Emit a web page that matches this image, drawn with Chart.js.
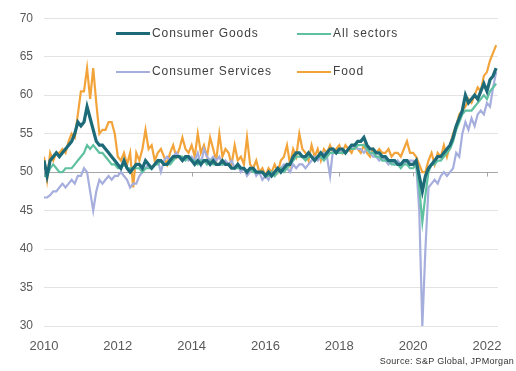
<!DOCTYPE html>
<html>
<head>
<meta charset="utf-8">
<script src="https://cdn.jsdelivr.net/npm/chart.js@4"></script>
<style>
  html, body { margin: 0; padding: 0; background: #fff; }
  #wrap { position: relative; width: 516px; height: 371px; }
  #legend { position: absolute; left: 116px; top: 24px; font-family: "Liberation Sans", Arial, sans-serif;
    font-size: 12px; letter-spacing: 0.9px; color: #404040; }
  .item { position: absolute; white-space: nowrap; height: 18px; line-height: 18px; }
  .item span.sw { display: inline-block; width: 34px; vertical-align: middle; margin-right: 2px; }
  #source { position: absolute; right: 2px; top: 356px; font-family: "Liberation Sans", Arial, sans-serif;
    font-size: 9px; color: #333; letter-spacing: 0.3px; }
</style>
</head>
<body>
<div id="wrap">
  <canvas id="chart" width="516" height="371"></canvas>
  <div id="legend"></div>
  <div id="source">Source: S&amp;P Global, JPMorgan</div>
</div>
<script>
// monthly data, Jan 2010 .. Apr 2022
const startYear = 2010;

const consumerGoods = [
  51.5, 49.5, 51.5, 52, 52.5, 52, 52.5, 53, 53.5, 54, 55, 56.5,
  56, 56.5, 58.5, 57, 55.5, 54, 53.5, 53.5, 53, 52.5, 52, 51.5,
  51, 50.5, 51.5, 50.5, 50, 50.5, 51, 51, 50.5, 51.5, 51, 50.5,
  51, 51.5, 51.5, 51, 51, 51.5, 52, 52, 52, 51.5, 52, 52,
  51.5, 51, 51.5, 51, 51.5, 51.5, 51, 51.5, 51, 51, 51.5, 51,
  51, 50.5, 50.5, 51, 50.5, 50.5, 50, 50.5, 50.5, 50, 50, 50,
  49.5, 50, 49.5, 50, 50.5, 50, 50.5, 51, 51, 52, 52.5, 52.5,
  52, 52, 52.5, 52, 51.5, 52, 52.5, 52, 52.5, 53, 53, 52.5,
  53, 53, 52.5, 53, 53.5, 53.5, 54, 54, 54.5, 53.5, 53, 53,
  52.5, 52.5, 52, 52, 51.5, 51.5, 51.5, 51, 51, 51.5, 51.5, 51,
  51, 51.5, 49.5, 47.5, 49.5, 50.5, 51, 51.5, 52, 52, 52.5, 53,
  53.5, 54.5, 56, 57, 58, 60, 59, 59.5, 60, 59.5, 60.5, 61.5,
  60.5, 62, 62.5, 63.5
];

const allSectors = [
  49.5, 49.5, 50.5, 51, 50.5, 50, 50, 50.5, 50.5, 50.5, 51, 51.5,
  52, 52.5, 53.5, 53, 53.5, 53, 52.5, 52.5, 52, 51.5, 51, 51,
  50.5, 50.5, 51, 50.5, 50.5, 50.5, 50.5, 50.5, 50, 50.5, 50.5, 50.5,
  51, 51, 51.5, 51, 51, 51, 51.5, 52, 52, 52, 51.5, 52,
  51.5, 51.5, 51, 51.5, 51.5, 51, 51.5, 51, 51, 51, 51, 51,
  51, 50.5, 50.5, 50.5, 50.5, 50.5, 50, 50.5, 50, 50, 50, 50,
  49.5, 49.5, 50, 49.5, 50, 50.5, 50, 50.5, 51, 51.5, 52, 52,
  52, 51.5, 52, 52, 51.5, 52, 52, 51.5, 52, 52.5, 52.5, 52.5,
  52.5, 52.5, 52.5, 53, 53, 53, 53.5, 53.5, 53.5, 53, 52.5, 52.5,
  52, 52, 51.5, 51.5, 51.5, 51, 51, 51, 50.5, 51, 51, 50.5,
  50.5, 51, 48, 43.5, 47, 50, 51, 51, 51.5, 51.5, 52, 52.5,
  53, 54, 55.5, 56.5, 57.5, 58, 58, 58, 58.5, 59, 59.5, 60,
  59.5, 60.5, 61, 61.5
];

const consumerServices = [
  46.7, 46.7, 47, 47.5, 47.5, 48, 48.5, 48, 48.5, 49, 48.5, 49.5,
  49.5, 50.5, 50, 47.5, 45, 47.5, 49, 48.5, 49, 49.5, 49, 49.5,
  49.5, 50, 49.5, 49, 48, 48.5, 48.5, 49.5, 50, 50.5, 51, 50.5,
  51, 51.5, 50, 51.5, 52, 51.5, 52, 52.5, 52, 51.5, 52, 51.5,
  52, 51.5, 52.5, 51, 53, 52, 51.5, 52, 51.5, 52, 51, 51.5,
  51, 51.5, 50.5, 51, 50, 50.5, 49.5, 50, 50.5, 49.5, 50, 49,
  49.5, 49, 50, 49.5, 50, 50.5, 51, 50.5, 50, 51, 50.5, 51,
  51, 50.5, 51, 51.5, 52, 51.5, 52, 52.5, 52, 49.5, 53, 52.5,
  52.5, 53, 52.5, 53, 53, 53.5, 53, 53, 52.5, 53, 52.5, 52,
  52, 51.5, 52, 51.5, 51, 51.5, 51, 51.5, 51, 51, 51.5, 51.5,
  51.5, 51, 45, 30, 40, 48, 48.5, 49, 48.5, 49.5, 50, 49.5,
  50, 50.5, 52.5, 52, 55, 56.5, 55.5, 57, 56, 57.5, 58, 57.5,
  59, 58.5, 61, 63
];

const food = [
  52, 49, 52.5, 51.5, 52.5, 52.5, 53, 52.5, 54, 55, 54.5, 57.5,
  60.5, 60.5, 63.5, 59.5, 63.5, 59, 55, 55.5, 55.5, 56.5, 56.5, 55,
  52, 51.5, 52.5, 51, 52.5, 48, 52.5, 51.5, 53, 55.5, 53, 53.5,
  51.5, 52.5, 53, 52, 51, 52.5, 53.5, 52, 53, 54.5, 53, 52.5,
  53.5, 52, 55, 52.5, 53.5, 52, 54.5, 53, 51.5, 55, 52, 53,
  52.5, 51, 53.5, 51.5, 52, 51, 54.5, 51, 50.5, 51.5, 50, 50.5,
  49.5, 50.5, 50, 51, 50, 51.5, 52, 53.5, 51, 53, 52, 55,
  53, 52.5, 51.5, 53.5, 52, 53, 51.5, 53, 52.5, 53.5, 52.5, 53,
  53.5, 52.5, 53.5, 53, 52.5, 53.5, 53, 52.5, 53.5, 52.5, 52, 53,
  52.5, 53, 52.5, 52.5, 53, 52, 52.5, 52.5, 52, 53, 54, 52.5,
  52.5, 52, 51, 50, 50, 51.5, 52.5, 51, 52.5, 52, 53.5, 52,
  53.5, 55, 56, 57.5, 58, 58.5, 59.5, 59, 60, 61, 60.5, 62.5,
  63, 64.5, 65.5, 66.5
];

const seriesNames = ["Consumer Goods", "All sectors", "Consumer Services", "Food"];
const seriesColors = ["#1d6b78", "#5fc1a0", "#a6aedd", "#f2a43a"];
const seriesWidths = [3.2, 2.2, 2.2, 2.2];
const seriesData = [consumerGoods, allSectors, consumerServices, food];

const yTicks = [30, 35, 40, 45, 50, 55, 60, 65, 70];
const xTicks = [2010, 2012, 2014, 2016, 2018, 2020, 2022];

function toPoints(values) {
  return values.map((v, i) => ({ x: startYear + i / 12, y: v }));
}

// grey axis line at 50 with small tick marks
const baseLine = {
  id: "baseLine",
  beforeDatasetsDraw(chart) {
    const { ctx, chartArea, scales } = chart;
    const y = Math.round(scales.y.getPixelForValue(50)) + 0.5;
    ctx.save();
    ctx.strokeStyle = "#a6a6a6";
    ctx.lineWidth = 1;
    ctx.beginPath();
    ctx.moveTo(chartArea.left, y);
    ctx.lineTo(chartArea.right, y);
    xTicks.forEach((t) => {
      const x = Math.round(scales.x.getPixelForValue(t)) + 0.5;
      ctx.moveTo(x, y);
      ctx.lineTo(x, y + 4);
    });
    ctx.stroke();
    ctx.restore();
  },
};

const ctx = document.getElementById("chart");

new Chart(ctx, {
  type: "line",
  data: {
    datasets: seriesData.map((d, i) => ({
      label: seriesNames[i],
      data: toPoints(d),
      borderColor: seriesColors[i],
      backgroundColor: seriesColors[i],
      borderWidth: seriesWidths[i],
      pointRadius: 0,
      tension: 0,
      fill: false,
    })),
  },
  options: {
    responsive: false,
    animation: false,
    layout: { padding: { top: 14, right: 18, bottom: 20, left: 0 } },
    plugins: { legend: { display: false }, tooltip: { enabled: false } },
    scales: {
      x: {
        type: "linear",
        min: 2010,
        max: 2022.3,
        afterBuildTicks(scale) {
          scale.ticks = xTicks.map((v) => ({ value: v }));
        },
        afterFit(scale) {
          scale.height = 25;
        },
        grid: { display: false },
        border: { display: false },
        ticks: {
          color: "#595959",
          font: { family: "Liberation Sans", size: 13 },
          padding: 5,
          maxRotation: 0,
          callback: (v) => String(v),
        },
      },
      y: {
        min: 30,
        max: 70,
        afterBuildTicks(scale) {
          scale.ticks = yTicks.map((v) => ({ value: v }));
        },
        afterFit(scale) {
          scale.width = 44;
        },
        grid: {
          color: (c) => (c.tick && c.tick.value === 50 ? "rgba(0,0,0,0)" : "#e3e3e3"),
          drawTicks: false,
        },
        border: { display: false },
        ticks: {
          color: "#595959",
          font: { family: "Liberation Sans", size: 12 },
          padding: 11,
        },
      },
    },
  },
  plugins: [baseLine],
});

// two-by-two legend
const legend = document.getElementById("legend");
const legendPos = [[0, 0], [181, 0], [0, 38], [181, 38]];
seriesNames.forEach((name, i) => {
  const item = document.createElement("div");
  item.className = "item";
  item.style.left = legendPos[i][0] + "px";
  item.style.top = legendPos[i][1] + "px";
  const sw = document.createElement("span");
  sw.className = "sw";
  sw.style.borderTop = Math.round(seriesWidths[i]) + "px solid " + seriesColors[i];
  item.appendChild(sw);
  item.appendChild(document.createTextNode(name));
  legend.appendChild(item);
});
</script>
</body>
</html>
